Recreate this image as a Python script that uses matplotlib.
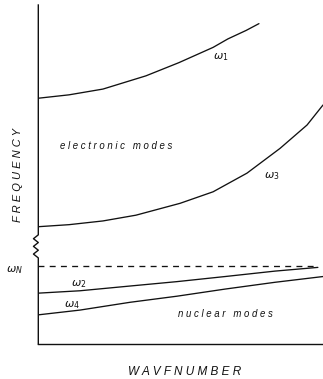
"""Schematic dispersion curves: electronic and nuclear modes vs wavenumber."""

import matplotlib
matplotlib.use("Agg")
import matplotlib.pyplot as plt
import numpy as np

# wavenumber (arb. units) and frequency (arb. units)
k_w1 = [0.0, 0.108, 0.227, 0.378, 0.494, 0.614, 0.666, 0.730, 0.775]
f_w1 = [7.25, 7.35, 7.52, 7.91, 8.30, 8.75, 9.00, 9.25, 9.45]

k_w3 = [0.0, 0.108, 0.227, 0.343, 0.498, 0.614, 0.733, 0.849, 0.944, 1.0]
f_w3 = [3.46, 3.52, 3.63, 3.80, 4.15, 4.49, 5.04, 5.77, 6.46, 7.05]

k_w2 = [0.0, 0.146, 0.322, 0.487, 0.656, 0.831, 0.982]
f_w2 = [1.50, 1.57, 1.71, 1.84, 1.99, 2.15, 2.26]

k_w4 = [0.0, 0.146, 0.322, 0.487, 0.656, 0.831, 1.0]
f_w4 = [0.86, 1.00, 1.23, 1.41, 1.62, 1.82, 1.99]

k_wn = [0.0, 0.982]
f_wn = [2.30, 2.30]

INK = "#111111"
FONT = "Liberation Sans"

fig = plt.figure(figsize=(3.23, 3.79), dpi=100)
ax = fig.add_axes([38.3 / 323, 35 / 379, 1 - 38.3 / 323, 339 / 379])
ax.set_xlim(0, 1)
ax.set_ylim(0, 10)
ax.axis("off")

line_kw = dict(color=INK, lw=0.95, solid_capstyle="round",
               solid_joinstyle="round")
ax.plot(k_w1, f_w1, **line_kw)
ax.plot(k_w3, f_w3, **line_kw)
ax.plot(k_w2, f_w2, **line_kw)
ax.plot(k_w4, f_w4, **line_kw)
ax.plot(k_wn, f_wn, color=INK, lw=0.95, dashes=(4.5, 4))

# axes drawn by hand: bottom line, left line with a zigzag break
ax.plot([0, 1], [0, 0], color=INK, lw=1.0, clip_on=False)
zig_f = np.linspace(2.54, 3.22, 7)
zig_k = np.array([0, -1, 0, -1, 0, -1, 0]) * 0.017
ax.plot(
    np.concatenate([[0], zig_k, [0]]),
    np.concatenate([[0], zig_f, [10]]),
    color=INK, lw=1.0, clip_on=False,
)

label_kw = dict(color=INK, fontsize=8, ha="center", va="center")
ax.text(0.642, 8.45, r"$\omega_1$", **label_kw)
ax.text(0.821, 4.96, r"$\omega_3$", **label_kw)
ax.text(0.143, 1.77, r"$\omega_2$", **label_kw)
ax.text(0.118, 1.15, r"$\omega_4$", **label_kw)
ax.text(-0.082, 2.18, r"$\omega_N$", clip_on=False, **label_kw)

ax.text(0.076, 5.84, "e l e c t r o n i c   m o d e s", family=FONT,
        style="italic", fontsize=6.9, color=INK, ha="left", va="center")
ax.text(0.491, 0.885, "n u c l e a r   m o d e s", family=FONT,
        style="italic", fontsize=6.9, color=INK, ha="left", va="center")

ax.text(-0.071, 4.99, "F R E Q U E N C Y", family=FONT, style="italic",
        fontsize=8, color=INK, rotation=90, ha="center", va="center",
        clip_on=False)
ax.text(0.515, -0.83, "W A V F N U M B E R", family=FONT, style="italic",
        fontsize=8.5, color=INK, ha="center", va="center", clip_on=False)

fig.savefig("out.png", dpi=100)
